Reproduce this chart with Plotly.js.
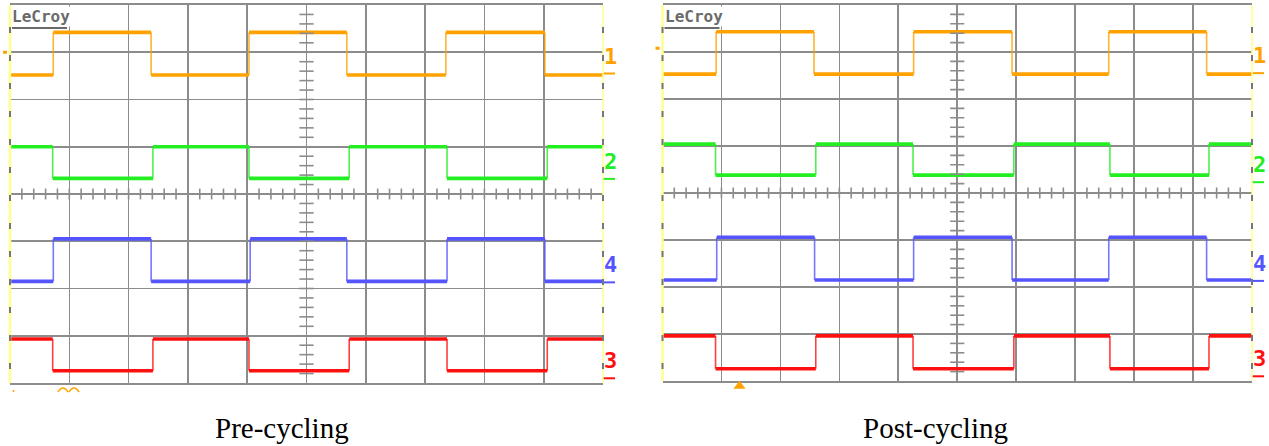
<!DOCTYPE html>
<html><head><meta charset="utf-8">
<script src="https://cdn.plot.ly/plotly-3.0.1.min.js"></script>
<style>html,body{margin:0;padding:0;background:#fff}#chart{width:1269px;height:446px}</style>
</head><body><div id="chart"></div>
<script>
// ---------- DATA (screen divisions: x 0..10, y -4..4) ----------
const channelNames = ['1', '2', '4', '3'];
const panelTitles = ['Pre-cycling', 'Post-cycling'];

// Pre-cycling
const preHigh = [3.42, 1.00, -0.95, -3.07];
const preLow = [2.52, 0.33, -1.85, -3.74];
const preStartHigh = [false, true, false, true];
const preEdgesCh1 = [0.73, 2.38, 4.03, 5.68, 7.35, 9.02];
const preEdgesCh2 = [0.72, 2.41, 4.03, 5.72, 7.37, 9.06];
const preEdgesCh4 = [0.73, 2.38, 4.05, 5.68, 7.37, 9.02];
const preEdgesCh3 = [0.72, 2.41, 4.03, 5.72, 7.37, 9.06];
const preLabelLevels = [2.55, 0.32, -1.87, -3.9];
const preOffsetMarker = 3.0;

// Post-cycling
const postHigh = [3.43, 1.04, -0.94, -3.04];
const postLow = [2.53, 0.38, -1.85, -3.74];
const postStartHigh = [false, true, false, true];
const postEdgesCh1 = [0.91, 2.57, 4.26, 5.93, 7.57, 9.23];
const postEdgesCh2 = [0.90, 2.60, 4.25, 5.96, 7.59, 9.27];
const postEdgesCh4 = [0.92, 2.58, 4.26, 5.93, 7.57, 9.23];
const postEdgesCh3 = [0.90, 2.60, 4.25, 5.96, 7.59, 9.27];
const postLabelLevels = [2.55, 0.23, -1.87, -3.9];
const postOffsetMarker = 3.08;

// ---------- STYLE ----------
const W = 1269, H = 446;
const colors = ['#ffa200', '#22ee22', '#5555ff', '#ff1010'];
const gridColor = '#8c8c8c';
const edgeYellow = '#ffff8c';
const panelsPx = [
  {x0: 10, x1: 603, y0: 5, y1: 383, cap: 282},
  {x0: 662.5, x1: 1252, y0: 5, y1: 381, cap: 936}
];
const px = x => x / W, py = y => 1 - y / H;

const panelData = [
  {high: preHigh, low: preLow, start: preStartHigh, edges: [preEdgesCh1, preEdgesCh2, preEdgesCh4, preEdgesCh3], labels: preLabelLevels, marker: preOffsetMarker},
  {high: postHigh, low: postLow, start: postStartHigh, edges: [postEdgesCh1, postEdgesCh2, postEdgesCh4, postEdgesCh3], labels: postLabelLevels, marker: postOffsetMarker}
];

const traces = [], shapes = [], annotations = [];
const layout = {
  width: W, height: H, margin: {l: 0, r: 0, t: 0, b: 0},
  paper_bgcolor: '#fff', plot_bgcolor: '#fff', showlegend: false,
  shapes, annotations
};

panelData.forEach((pd, p) => {
  const P = panelsPx[p];
  const xa = p === 0 ? 'x' : 'x2', ya = p === 0 ? 'y' : 'y2';
  const xk = p === 0 ? 'xaxis' : 'xaxis2', yk = p === 0 ? 'yaxis' : 'yaxis2';
  const yDom = [py(P.y1), py(P.y0)];
  layout[xk] = {domain: [px(P.x0), px(P.x1)], range: [0, 10], anchor: ya, dtick: 1, tick0: 0,
    showgrid: true, gridcolor: gridColor, gridwidth: 1.6, zeroline: false, showticklabels: false,
    ticks: '', showline: true, mirror: true, linecolor: gridColor, linewidth: 1.6, fixedrange: true};
  layout[yk] = {domain: yDom, range: [-4, 4], anchor: xa, dtick: 1, tick0: 0,
    showgrid: true, gridcolor: gridColor, gridwidth: 1.6, zeroline: false, showticklabels: false,
    ticks: '', showline: false, fixedrange: true};
  const yToPaper = v => yDom[0] + (v + 4) / 8 * (yDom[1] - yDom[0]);

  // waveforms
  pd.edges.forEach((edges, c) => {
    const hx = [], hy = [], vx = [], vy = [];
    let hi = pd.start[c], prev = 0;
    edges.concat([10]).forEach((e, i) => {
      const lvl = hi ? pd.high[c] : pd.low[c];
      hx.push(prev, e, null); hy.push(lvl, lvl, null);
      if (i < edges.length) {
        const nl = hi ? pd.low[c] : pd.high[c];
        vx.push(e, e, null); vy.push(lvl, nl, null);
        hi = !hi;
      }
      prev = e;
    });
    traces.push({x: vx, y: vy, xaxis: xa, yaxis: ya, mode: 'lines', hoverinfo: 'skip',
      line: {color: colors[c], width: 1.6}, opacity: 0.8});
    traces.push({x: hx, y: hy, xaxis: xa, yaxis: ya, mode: 'lines', hoverinfo: 'skip',
      line: {color: colors[c], width: 3.6}});

    // channel label + underline
    const yl = yToPaper(pd.labels[c]);
    annotations.push({xref: 'paper', yref: 'paper', x: px(P.x1 + 7), y: yl + 3 / H,
      xanchor: 'center', yanchor: 'bottom', showarrow: false, text: '<b>' + channelNames[c] + '</b>',
      font: {family: 'DejaVu Sans Mono', size: 22, color: colors[c]}});
    shapes.push({type: 'line', xref: 'paper', yref: 'paper', x0: px(P.x1), x1: px(P.x1 + 12),
      y0: yl, y1: yl, line: {color: colors[c], width: 2}});
  });

  // left/right yellow edges with gray dashes
  [P.x0, P.x1].forEach((ex, k) => {
    shapes.push({type: 'line', xref: 'paper', yref: 'paper', x0: px(ex), x1: px(ex),
      y0: py(P.y0), y1: py(P.y1), line: {color: edgeYellow, width: k === 0 ? 2.5 : 1.5}, layer: 'above'});
    shapes.push({type: 'line', xref: 'paper', yref: 'paper', x0: px(ex), x1: px(ex),
      y0: py(P.y0 + 22), y1: py(P.y1), line: {color: '#777', width: 2, dash: '6px,22px'}, layer: 'above'});
  });

  // center crosshair minor ticks
  for (let k = 1; k < 50; k++) {
    if (k === 25) continue;
    const xv = k * 0.2;
    shapes.push({type: 'line', xref: xa, yref: ya, x0: xv, x1: xv, y0: -0.115, y1: 0.115,
      line: {color: gridColor, width: 1.6}, layer: 'above'});
  }
  for (let k = -19; k < 20; k++) {
    if (k === 0) continue;
    const yv = k * 0.2;
    shapes.push({type: 'line', xref: xa, yref: ya, x0: 4.88, x1: 5.12, y0: yv, y1: yv,
      line: {color: gridColor, width: 1.6}, layer: 'above'});
  }

  // offset marker on the left
  const ym = yToPaper(pd.marker);
  shapes.push({type: 'line', xref: 'paper', yref: 'paper', x0: px(P.x0 - 7), x1: px(P.x0 - 3),
    y0: ym, y1: ym, line: {color: colors[0], width: 3}});

  // LeCroy logo
  annotations.push({xref: 'paper', yref: 'paper', x: px(P.x0 + 1), y: py(P.y0 + 1),
    xanchor: 'left', yanchor: 'top', showarrow: false, text: '<b>LeCroy</b>',
    font: {family: 'DejaVu Sans Mono', size: 16, color: '#6a6a6a'}, bgcolor: '#fff', borderpad: 0});
  shapes.push({type: 'line', xref: 'paper', yref: 'paper', x0: px(P.x0 + 2), x1: px(P.x0 + 57),
    y0: py(P.y0 + 23), y1: py(P.y0 + 23), line: {color: '#6a6a6a', width: 2}});

  // panel caption
  annotations.push({xref: 'paper', yref: 'paper', x: px(P.cap), y: py(428),
    xanchor: 'center', yanchor: 'middle', showarrow: false, text: panelTitles[p],
    font: {family: 'Liberation Serif', size: 29, color: '#000'}});
});

// small orange marks below the screens
shapes.push({type: 'path', xref: 'paper', yref: 'paper', fillcolor: 'rgba(0,0,0,0)',
  path: `M ${px(58)},${py(392)} Q ${px(63)},${py(384)} ${px(68)},${py(392)} M ${px(69)},${py(392)} Q ${px(74)},${py(384)} ${px(79)},${py(392)}`,
  line: {color: colors[0], width: 1.5}});
shapes.push({type: 'circle', xref: 'paper', yref: 'paper', x0: px(12.5), x1: px(14.5), y0: py(392), y1: py(390),
  fillcolor: colors[0], line: {width: 0}});
shapes.push({type: 'path', xref: 'paper', yref: 'paper', fillcolor: colors[0],
  path: `M ${px(735)},${py(388)} L ${px(739.5)},${py(382)} L ${px(744)},${py(388)} Z`,
  line: {color: colors[0], width: 1.5}});

Plotly.newPlot('chart', traces, layout, {staticPlot: true, displayModeBar: false});
</script></body></html>
